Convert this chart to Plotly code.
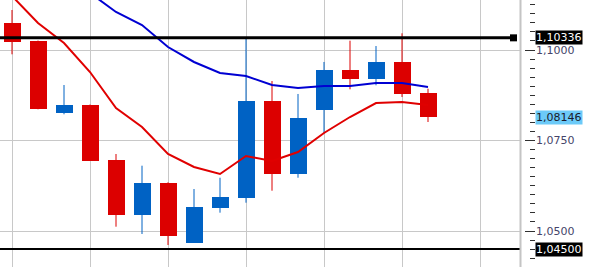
import plotly.graph_objects as go

# ---- data ----
opens  = [1.10746, 1.10249, 1.08268, 1.08481, 1.06961, 1.05450, 1.06334, 1.04677, 1.05644,
          1.05920, 1.08599, 1.06566, 1.08351, 1.09448, 1.09207, 1.09669, 1.08804]
highs  = [1.11105, 1.10262, 1.09033, 1.08494, 1.07127, 1.06804, 1.06345, 1.06160, 1.06472,
          1.10331, 1.09144, 1.08785, 1.09669, 1.10257, 1.10110, 1.10461, 1.08931]
lows   = [1.09881, 1.08362, 1.08224, 1.06934, 1.05119, 1.04917, 1.04613, 1.04670, 1.05506,
          1.05782, 1.06113, 1.06472, 1.07699, 1.08914, 1.09025, 1.08702, 1.08011]
closes = [1.10229, 1.08362, 1.08481, 1.06942, 1.05450, 1.06334, 1.04870, 1.05663, 1.05948,
          1.08599, 1.06566, 1.08122, 1.09448, 1.09207, 1.09669, 1.08793, 1.08146]
ma_fast = [1.11492, 1.10746, 1.10193, 1.09392, 1.08398, 1.07873, 1.07127, 1.06768, 1.06575,
           1.07072, 1.06934, 1.07182, 1.07707, 1.08149, 1.08536, 1.08564, 1.08481]
ma_slow = [None, None, None, 1.11575, 1.11050, 1.10691, 1.10083, 1.09669, 1.09365,
           1.09282, 1.09033, 1.08950, 1.09006, 1.09006, 1.09088, 1.09088, 1.08978]
levels = [1.10336, 1.04500]
last_price = 1.08146
y_ticks = [1.0500, 1.0750, 1.1000]
y_tick_labels = ["1,0500", "1,0750", "1,1000"]

# ---- styles ----
UP = "#0062c4"
DOWN = "#dc0000"
W, H = 591, 267
R_MARGIN = 56
PLOT_W = W - R_MARGIN
AXIS_PX = 521
FONT = "'DejaVu Sans', Verdana, sans-serif"

n = len(opens)
idx = list(range(n))
up = [c >= o for o, c in zip(opens, closes)]

fig = go.Figure()

# wicks
for flag, col in ((True, UP), (False, DOWN)):
    wx, wy = [], []
    for i in idx:
        if up[i] == flag:
            wx += [i, i, None]
            wy += [lows[i], highs[i], None]
    fig.add_trace(go.Scatter(x=wx, y=wy, mode="lines", line=dict(color=col, width=1),
                             hoverinfo="skip", showlegend=False))

# bodies
for flag, col in ((True, UP), (False, DOWN)):
    bx = [i for i in idx if up[i] == flag]
    base = [min(opens[i], closes[i]) for i in bx]
    hgt = [abs(opens[i] - closes[i]) for i in bx]
    fig.add_trace(go.Bar(x=bx, y=hgt, base=base, width=0.654,
                         marker=dict(color=col, line=dict(width=0)),
                         showlegend=False))

# moving averages
fig.add_trace(go.Scatter(x=idx, y=ma_fast, mode="lines", line=dict(color="#e00000", width=2),
                         showlegend=False))
fig.add_trace(go.Scatter(x=idx, y=ma_slow, mode="lines", line=dict(color="#0000d2", width=2),
                         showlegend=False))

# level end marker
x_min = -12 / 26
x_max = (AXIS_PX - 12) / 26
marker_x = (513.5 - 12) / 26
fig.add_trace(go.Scatter(x=[marker_x], y=[levels[0]], mode="markers",
                         marker=dict(symbol="square", size=7, color="black"),
                         cliponaxis=False, showlegend=False))

shapes = [
    dict(type="line", xref="x", yref="y", x0=x_min, x1=marker_x, y0=levels[0], y1=levels[0],
         line=dict(color="black", width=3), layer="above"),
    dict(type="line", xref="paper", yref="y", x0=0, x1=AXIS_PX / PLOT_W, y0=levels[1], y1=levels[1],
         line=dict(color="black", width=2), layer="above"),
    dict(type="line", xref="paper", yref="paper", x0=(AXIS_PX - 0.5) / PLOT_W, x1=(AXIS_PX - 0.5) / PLOT_W,
         y0=0, y1=1, line=dict(color="#c4c4c4", width=2), layer="above"),
]

def fmt(v):
    return f"{v:.5f}".replace(".", ",")

annotations = []
for v, bg, fg in ((levels[0], "black", "white"), (last_price, "#6ccaf8", "#1a1a2a"),
                  (levels[1], "black", "white")):
    annotations.append(dict(x=1, xref="paper", y=v, yref="y", text=fmt(v), showarrow=False,
                            xanchor="left", yanchor="middle", xshift=0, bgcolor=bg,
                            font=dict(family=FONT, size=11, color=fg), borderpad=0))

fig.update_layout(
    width=W, height=H,
    margin=dict(l=0, r=R_MARGIN, t=0, b=0),
    paper_bgcolor="white", plot_bgcolor="white",
    barmode="overlay", bargap=0,
    showlegend=False,
    shapes=shapes, annotations=annotations,
    xaxis=dict(domain=[0, AXIS_PX / PLOT_W], range=[x_min, x_max], tick0=0, dtick=3,
               showgrid=True, gridcolor="#c8c8c8", gridwidth=1, zeroline=False,
               showticklabels=False, ticks="", showline=False),
    yaxis=dict(anchor="free", position=1, side="right",
               range=[1.1 - 217 / 3620, 1.1 + 50 / 3620],
               tickvals=y_ticks, ticktext=y_tick_labels,
               ticks="inside", ticklen=10, tickcolor="#303030", tickwidth=1,
               minor=dict(dtick=0.0025, tick0=1.05, ticks="inside", ticklen=5,
                          tickcolor="#303030", showgrid=False),
               showgrid=True, gridcolor="#c8c8c8", gridwidth=1, zeroline=False,
               showline=False,
               tickfont=dict(family=FONT, size=11, color="#45456a")),
)

fig.write_html("out.html")
